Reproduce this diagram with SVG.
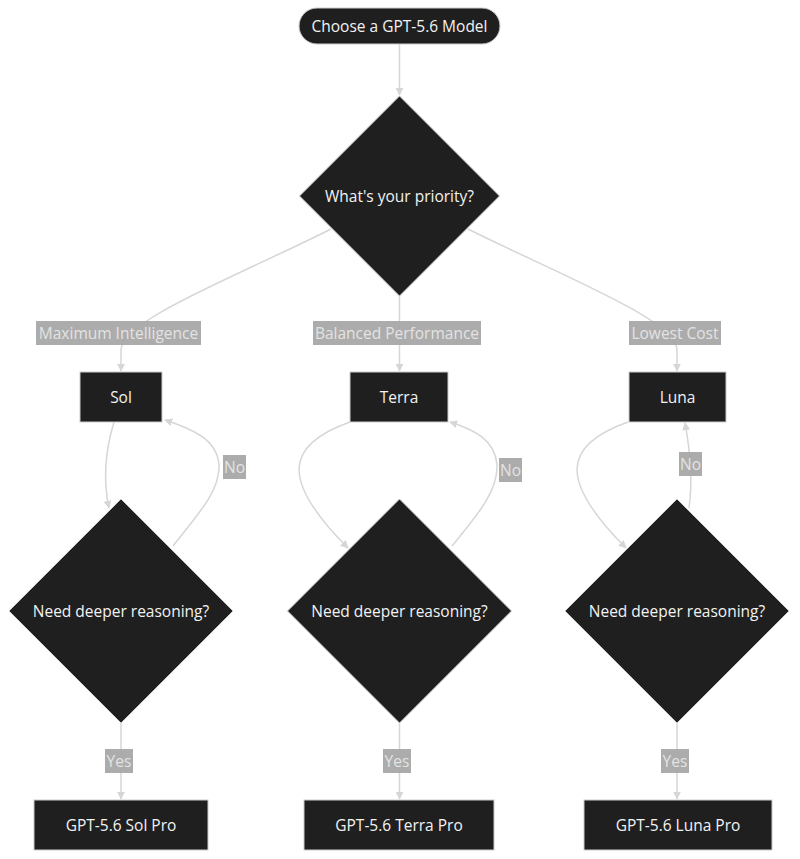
<svg xmlns="http://www.w3.org/2000/svg" width="800" height="859" viewBox="0 0 800 859">
<style>
.node{fill:#1f1f1f;stroke:#cccccc;stroke-width:1}
.nt{fill:#f2f2f2;font-family:"Open Sans","DejaVu Sans",sans-serif;font-size:15.5px;text-anchor:middle;dominant-baseline:central}
.edge{fill:none;stroke:#d6d6d6;stroke-width:1.5}
.lb{fill:#a8a8a8;opacity:0.95}
.lt{fill:#e3e3e3;font-family:"Open Sans","DejaVu Sans",sans-serif;font-size:15.5px;text-anchor:middle;dominant-baseline:central}
</style>
<defs>
<marker id="ah" viewBox="0 0 10 10" refX="9" refY="5" markerWidth="8" markerHeight="8" markerUnits="userSpaceOnUse" orient="auto">
<path d="M0,0 L10,5 L0,10 z" fill="#d6d6d6"/>
</marker>
</defs>
<rect width="800" height="859" fill="#ffffff"/>
<g id="edges">
<path class="edge" d="M399.5,44 L399.5,95" marker-end="url(#ah)"/>
<path class="edge" d="M331,229 C240,275 121,320 121,350 L121,371" marker-end="url(#ah)"/>
<path class="edge" d="M399.5,296 L399.5,371" marker-end="url(#ah)"/>
<path class="edge" d="M468,229 C560,275 677,320 677,350 L677,371" marker-end="url(#ah)"/>
<path class="edge" d="M114,422 C104,455 104,485 109,508" marker-end="url(#ah)"/>
<path class="edge" d="M173,546 C200,512 220,490 219,465 C217,440 195,430 165,420" marker-end="url(#ah)"/>
<path class="edge" d="M350,422 C285,445 280,480 348,548" marker-end="url(#ah)"/>
<path class="edge" d="M452,546 C480,512 498,490 497,465 C495,440 475,430 450,422" marker-end="url(#ah)"/>
<path class="edge" d="M628,422 C563,445 558,480 626,548" marker-end="url(#ah)"/>
<path class="edge" d="M689,508 C693,480 690,450 685,423" marker-end="url(#ah)"/>
<path class="edge" d="M121,723 L121,799" marker-end="url(#ah)"/>
<path class="edge" d="M399.5,723 L399.5,799" marker-end="url(#ah)"/>
<path class="edge" d="M677,723 L677,799" marker-end="url(#ah)"/>
</g>
<g id="edge-labels">
<rect class="lb" x="36" y="321" width="165" height="24"/><text class="lt" x="118.5" y="333">Maximum Intelligence</text>
<rect class="lb" x="313" y="321" width="168" height="24"/><text class="lt" x="397" y="333">Balanced Performance</text>
<rect class="lb" x="629" y="321" width="92" height="24"/><text class="lt" x="675" y="333">Lowest Cost</text>
<rect class="lb" x="223" y="455" width="23" height="24"/><text class="lt" x="234.5" y="467">No</text>
<rect class="lb" x="499" y="458" width="23" height="24"/><text class="lt" x="510.5" y="470">No</text>
<rect class="lb" x="679" y="452" width="23" height="24"/><text class="lt" x="690.5" y="464">No</text>
<rect class="lb" x="105" y="749" width="28" height="24"/><text class="lt" x="119" y="761">Yes</text>
<rect class="lb" x="383" y="749" width="28" height="24"/><text class="lt" x="397" y="761">Yes</text>
<rect class="lb" x="661" y="749" width="28" height="24"/><text class="lt" x="675" y="761">Yes</text>
</g>
<g id="start"><rect class="node" x="299" y="8" width="201" height="36" rx="18"/><text class="nt" x="399.5" y="26">Choose a GPT-5.6 Model</text></g>
<g id="priority"><polygon class="node" points="399.5,96 499.5,196 399.5,296 299.5,196"/><text class="nt" x="399.5" y="196">What's your priority?</text></g>
<g id="sol"><rect class="node" x="80" y="372" width="82" height="50"/><text class="nt" x="121" y="397">Sol</text></g>
<g id="terra"><rect class="node" x="350" y="372" width="98" height="50"/><text class="nt" x="399" y="397">Terra</text></g>
<g id="luna"><rect class="node" x="629" y="372" width="97" height="50"/><text class="nt" x="677.5" y="397">Luna</text></g>
<g id="sol-q"><polygon class="node" points="121,499 233,611 121,723 9,611"/><text class="nt" x="121" y="611">Need deeper reasoning?</text></g>
<g id="terra-q"><polygon class="node" points="399.5,499 511.5,611 399.5,723 287.5,611"/><text class="nt" x="399.5" y="611">Need deeper reasoning?</text></g>
<g id="luna-q"><polygon class="node" points="677,499 789,611 677,723 565,611"/><text class="nt" x="677" y="611">Need deeper reasoning?</text></g>
<g id="sol-pro"><rect class="node" x="34" y="800" width="174" height="50"/><text class="nt" x="121" y="825">GPT-5.6 Sol Pro</text></g>
<g id="terra-pro"><rect class="node" x="304" y="800" width="190" height="50"/><text class="nt" x="399" y="825">GPT-5.6 Terra Pro</text></g>
<g id="luna-pro"><rect class="node" x="584" y="800" width="188" height="50"/><text class="nt" x="678" y="825">GPT-5.6 Luna Pro</text></g>
</svg>
